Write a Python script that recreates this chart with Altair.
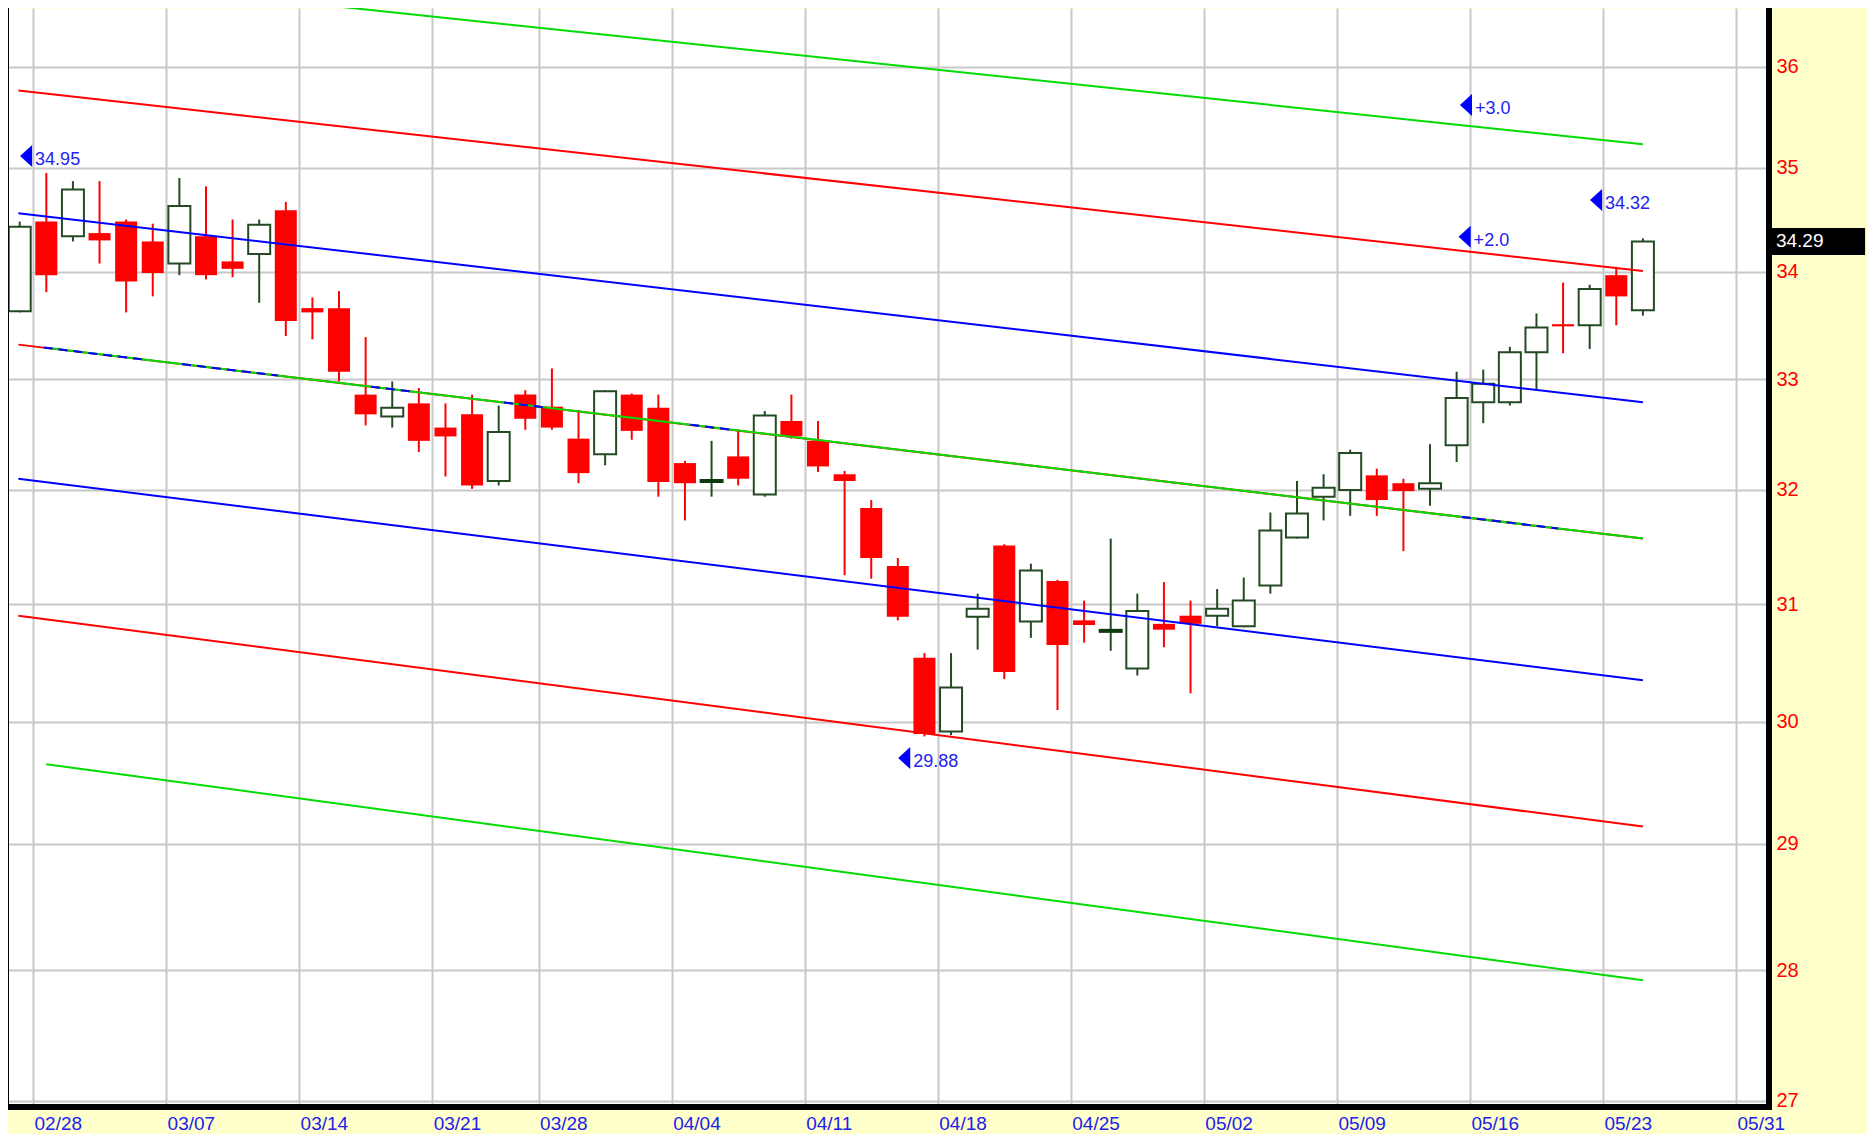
import altair as alt
import pandas as pd

# ---------------- data ----------------
dates = ["02/25", "02/28", "03/01", "03/02", "03/03", "03/04", "03/07", "03/08", "03/09", "03/10",
         "03/11", "03/14", "03/15", "03/16", "03/17", "03/18", "03/21", "03/22", "03/23", "03/24",
         "03/28", "03/29", "03/30", "03/31", "04/01", "04/04", "04/05", "04/06", "04/07", "04/08",
         "04/11", "04/12", "04/13", "04/14", "04/15", "04/18", "04/19", "04/20", "04/21", "04/22",
         "04/25", "04/26", "04/27", "04/28", "04/29", "05/02", "05/03", "05/04", "05/05", "05/06",
         "05/09", "05/10", "05/11", "05/12", "05/13", "05/16", "05/17", "05/18", "05/19", "05/20",
         "05/23", "05/24"]
opens = [33.63, 34.48, 34.34, 34.37, 34.48, 34.29, 34.08, 34.34, 34.10, 34.17,
         34.59, 33.66, 33.66, 32.86, 32.66, 32.78, 32.56, 32.68, 32.08, 32.86,
         32.75, 32.46, 32.32, 32.86, 32.74, 32.24, 32.08, 32.30, 31.96, 32.62,
         32.44, 32.14, 31.84, 31.33, 30.54, 29.92, 30.89, 31.51, 30.85, 31.20,
         30.86, 30.77, 30.45, 30.83, 30.90, 30.90, 30.81, 31.16, 31.58, 31.94,
         32.00, 32.13, 32.06, 32.01, 32.40, 32.79, 32.79, 33.25, 33.51, 33.50,
         33.97, 33.64]
highs = [34.48, 34.95, 34.87, 34.87, 34.50, 34.46, 34.90, 34.82, 34.50, 34.50,
         34.67, 33.76, 33.82, 33.39, 32.98, 32.92, 32.78, 32.86, 32.76, 32.90,
         33.10, 32.72, 32.90, 32.87, 32.86, 32.26, 32.44, 32.53, 32.71, 32.86,
         32.62, 32.17, 31.91, 31.40, 30.58, 30.58, 31.09, 31.52, 31.35, 31.21,
         31.03, 31.57, 31.09, 31.19, 31.03, 31.13, 31.23, 31.80, 32.08, 32.14,
         32.36, 32.19, 32.10, 32.41, 33.07, 33.09, 33.30, 33.61, 33.90, 33.88,
         34.05, 34.32]
lows = [33.62, 33.81, 34.29, 34.08, 33.62, 33.77, 33.97, 33.93, 33.95, 33.71,
        33.40, 33.37, 32.98, 32.58, 32.56, 32.34, 32.12, 32.01, 32.04, 32.54,
        32.54, 32.06, 32.22, 32.45, 31.94, 31.73, 31.94, 32.04, 31.94, 32.46,
        32.16, 31.25, 31.22, 30.86, 29.88, 29.89, 30.61, 30.36, 30.71, 30.10,
        30.67, 30.60, 30.39, 30.63, 30.24, 30.81, 30.80, 31.09, 31.57, 31.73,
        31.77, 31.77, 31.46, 31.86, 32.25, 32.60, 32.76, 32.91, 33.24, 33.28,
        33.50, 33.59]
closes = [34.43, 33.97, 34.79, 34.30, 33.91, 33.99, 34.63, 33.97, 34.03, 34.45,
          33.54, 33.62, 33.07, 32.68, 32.74, 32.44, 32.48, 32.04, 32.52, 32.64,
          32.56, 32.15, 32.89, 32.53, 32.07, 32.06, 32.08, 32.10, 32.67, 32.48,
          32.21, 32.08, 31.40, 30.89, 29.90, 30.29, 30.96, 30.42, 31.29, 30.65,
          30.82, 30.77, 30.94, 30.78, 30.83, 30.96, 31.03, 31.64, 31.79, 32.02,
          32.33, 31.91, 31.99, 32.06, 32.83, 32.96, 33.25, 33.48, 33.49, 33.84,
          33.77, 34.29]

# trading-day slots of the weekly axis labels (02/25 is slot 0)
tick_pos = [1, 6, 11, 16, 20, 25, 30, 35, 40, 45, 50, 55, 60, 65]
tick_labels = ["02/28", "03/07", "03/14", "03/21", "03/28", "04/04", "04/11",
               "04/18", "04/25", "05/02", "05/09", "05/16", "05/23", "05/31"]
price_ticks = [27, 28, 29, 30, 31, 32, 33, 34, 35, 36]

# regression channel lines (start/end slot and price)
band_names = ["0r", "+3", "+2", "+1", "0", "-1", "-2", "-3"]
band_colors = ["#FF0000", "#00DD00", "#FF0000", "#0000FF", "#00DD00", "#0000FF", "#FF0000", "#00DD00"]
band_x0 = [0.45, 1.5, 0.45, 0.45, 1.5, 0.45, 0.45, 1.5]
band_x1 = [61.5, 61.5, 61.5, 61.5, 61.5, 61.5, 61.5, 61.5]
band_v0 = [33.32, 36.92, 35.76, 34.56, 33.29, 32.10, 30.90, 29.65]
band_v1 = [31.57, 35.23, 34.01, 32.79, 31.57, 30.35, 29.14, 27.92]

# stretches where the blue mid-line shows through the green one
overlay_start = [1.4, 6.6, 13.7, 18.7, 25.7, 54.7]
overlay_end = [5.1, 10.2, 15.2, 20.2, 27.2, 58.3]

# annotations: marker slot, price level of marker, text
ann_text = ["34.95", "34.32", "29.88", "+3.0", "+2.0"]
ann_pos = [0.74, 59.74, 33.74, 54.85, 54.8]
ann_level = [35.115, 34.688, 29.70, 35.617, 34.335]

last_close = 34.29

# ---------------- tables ----------------
candles = pd.DataFrame({
    "date": dates, "open": opens, "high": highs, "low": lows, "close": closes,
})
candles["pos"] = [i + 0.5 for i in range(len(dates))]

bands_rows = []
for n, x0, x1, v0, v1 in zip(band_names, band_x0, band_x1, band_v0, band_v1):
    bands_rows.append({"name": n, "pos": x0, "v": v0})
    bands_rows.append({"name": n, "pos": x1, "v": v1})
bands = pd.DataFrame(bands_rows)

ov_rows = []
for k, (a, b) in enumerate(zip(overlay_start, overlay_end)):
    ov_rows.append({"seg": k, "pos": a})
    ov_rows.append({"seg": k, "pos": b})
overlay = pd.DataFrame(ov_rows)

ann = pd.DataFrame({"text": ann_text, "pos": ann_pos, "level": ann_level})
last_df = pd.DataFrame({"v": [last_close], "label": [f"{last_close:.2f}"],
                        "xa": [66.35], "xb": [69.85], "xt": [66.5]})

# ---------------- scales ----------------
XS = alt.Scale(domain=[0.06, 66.126], nice=False, zero=False, padding=0)
YS = alt.Scale(type="log", domain=[26.9757, 36.5906], nice=False, padding=0)

FONT = "Liberation Sans"
label_expr = "{}[indexof({}, datum.value)]".format(
    "[" + ",".join("'%s'" % t for t in tick_labels) + "]",
    "[" + ",".join(str(p) for p in tick_pos) + "]")

x_axis = alt.Axis(values=tick_pos, labelExpr=label_expr, grid=True, gridColor="#C8C8C8",
                  gridWidth=2, ticks=False, tickSize=0, domain=False,
                  labelColor="#2020EE", labelFont=FONT, labelFontSize=19, labelAlign="left",
                  labelBaseline="alphabetic", labelPadding=25.5, labelOverlap=False,
                  labelFlush=False, labelBound=False, title=None, labelOffset=1)
y_axis = alt.Axis(values=price_ticks, format="d", orient="right", grid=True, gridColor="#C8C8C8",
                  gridWidth=2, ticks=False, tickSize=0, domain=False,
                  labelColor="#FF0000", labelFont=FONT, labelFontSize=20, labelAlign="left",
                  labelBaseline="middle", labelPadding=10, labelOverlap=False, labelFlush=False,
                  labelBound=False, title=None)

base = alt.Chart(candles).transform_calculate(
    dir="datum.close > datum.open ? 'up' : (datum.close < datum.open ? 'down' : 'flat')"
)

UP = "#244A24"
wicks = base.mark_rule(strokeWidth=2, clip=True).encode(
    x=alt.X("pos:Q", scale=XS, axis=x_axis),
    y=alt.Y("low:Q", scale=YS, axis=y_axis),
    y2="high:Q",
    color=alt.condition("datum.close < datum.open", alt.value("#FF0000"), alt.value(UP)),
)
down_bodies = base.transform_filter("datum.dir == 'down'").mark_bar(
    size=22, color="#FF0000", clip=True).encode(x="pos:Q", y="open:Q", y2="close:Q")
up_bodies = base.transform_filter("datum.dir == 'up'").mark_bar(
    size=22, fill="#FFFFFF", stroke=UP, strokeWidth=2, clip=True).encode(
    x="pos:Q", y="open:Q", y2="close:Q")
flat_bodies = base.transform_filter("datum.dir == 'flat'").mark_tick(
    orient="horizontal", size=24, thickness=4, color="#0F3A0F", opacity=1, clip=True).encode(
    x="pos:Q", y="open:Q")

band_red_mid = alt.Chart(bands).transform_filter("datum.name == '0r'").mark_line(
    strokeWidth=2, color="#FF0000", clip=True).encode(x="pos:Q", y="v:Q")
band_lines = alt.Chart(bands).transform_filter("datum.name != '0r'").mark_line(
    strokeWidth=2, clip=True).encode(
    x="pos:Q", y="v:Q",
    detail="name:N",
    color=alt.Color("name:N", scale=alt.Scale(domain=band_names, range=band_colors), legend=None),
)

c0, c1 = band_v0[4], band_v1[4]
x0, x1 = band_x0[4], band_x1[4]
overlay_lines = alt.Chart(overlay).transform_calculate(
    v=f"exp(log({c0}) + (log({c1}) - log({c0})) * (datum.pos - {x0}) / ({x1} - {x0}))"
).mark_line(strokeWidth=2, color="#0000FF", strokeDash=[9, 6], clip=True).encode(
    x="pos:Q", y="v:Q", detail="seg:N")

tri = alt.Chart(ann).mark_point(
    shape="M -0.55 0 L 0.55 -1 L 0.55 1 Z", size=484, filled=True, color="#0000FF",
    opacity=1, strokeWidth=0).encode(x="pos:Q", y="level:Q")
ann_txt = alt.Chart(ann).mark_text(
    align="left", baseline="middle", dx=9, dy=4, font=FONT, fontSize=18, color="#2222EE").encode(
    x="pos:Q", y="level:Q", text="text:N")

# plot frame: thin left edge, thick right and bottom edges
frame_left = alt.Chart(candles).mark_rule(color="#000000", strokeWidth=2).encode(
    x=alt.value(0), y=alt.value(0), y2=alt.value(1096))
frame_bottom = alt.Chart(candles).mark_rule(color="#000000", strokeWidth=5, clip=False).encode(
    x=alt.value(-1), x2=alt.value(1764), y=alt.value(1099))
frame_right = alt.Chart(candles).mark_rule(color="#000000", strokeWidth=5, clip=False).encode(
    x=alt.value(1761), y=alt.value(0), y2=alt.value(1101.5))

last_box = alt.Chart(last_df).mark_bar(size=27, color="#000000", clip=False).encode(
    x="xa:Q", x2="xb:Q", y="v:Q")
last_txt = alt.Chart(last_df).mark_text(
    align="left", baseline="middle", font=FONT, fontSize=19, color="#FFFFFF", clip=False).encode(
    x="xt:Q", y="v:Q", text="label:N")

chart = alt.layer(
    wicks, down_bodies, up_bodies, flat_bodies,
    band_red_mid, band_lines, overlay_lines,
    tri, ann_txt, frame_left, frame_bottom, frame_right, last_box, last_txt,
).properties(
    width=1758, height=1096,
    autosize=alt.AutoSizeParams(type="none"),
    padding={"left": 0, "top": 0, "right": 101, "bottom": 30},
).configure(background="#FFFFCC").configure_view(fill="#FFFFFF", stroke="transparent")

chart.save("out.html", embed_options={"renderer": "svg", "actions": False})
